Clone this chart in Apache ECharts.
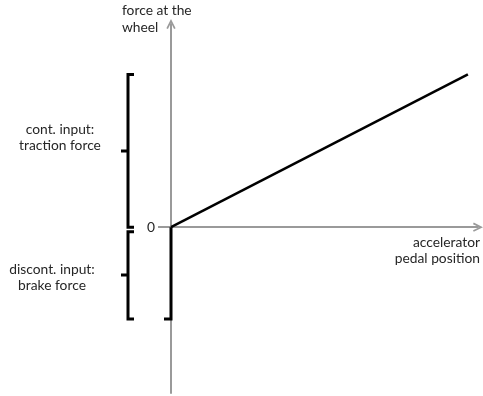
<!DOCTYPE html>
<html>
<head>
<meta charset="utf-8">
<script src="https://cdn.jsdelivr.net/npm/echarts@6/dist/echarts.min.js"></script>
<style>
html, body { margin: 0; padding: 0; background: #fff; }
#main { width: 483px; height: 396px; }
</style>
</head>
<body>
<div id="main"></div>
<script>
// pedal position (0..1) against force at the wheel (traction = +, brake = -)
var pedalPosition = [0, 1]
var tractionForce = [0, 1]
var brakeRange = [0, -0.6]
// brace extents on the force axis: [top, bottom]
var braceRanges = [[1, 0], [-0.03, -0.6]]
var braceLabels = ['cont. input:\ntraction force', 'discont. input:\nbrake force']
var yTicks = [0]

var textColor = '#262626'
var axisColor = '#9a9a9a'
var font = 'Lato'
var fontSize = 13.8
// open chevron arrow head
var chevron = 'path://M0,10 L5,0 L10,10 L8.3,10.8 L5,4 L1.7,10.8 Z'

var chart = echarts.init(document.getElementById('main'))

function renderBrace(params, api) {
  var i = params.dataIndex
  var top = api.coord([0, api.value(0)])
  var bottom = api.coord([0, api.value(1)])
  var x = top[0] - 43
  var mid = Math.round((top[1] + bottom[1]) / 2)
  var labelDx = [-68, -76][i]
  var labelDy = [-13, 3][i]
  return {
    type: 'group',
    children: [
      {
        type: 'polyline',
        shape: {
          points: [[x + 6, top[1]], [x, top[1]], [x, mid], [x - 7, mid], [x, mid], [x, bottom[1]], [x + 6, bottom[1]]]
        },
        style: { stroke: '#000', lineWidth: 3, fill: null }
      },
      {
        type: 'text',
        x: x + labelDx,
        y: mid + labelDy,
        style: {
          text: braceLabels[i],
          align: 'center',
          verticalAlign: 'middle',
          fontSize: fontSize,
          fontFamily: font,
          lineHeight: 16,
          fill: textColor
        }
      }
    ]
  }
}

function renderBrake(params, api) {
  var p0 = api.coord([0, api.value(0)])
  var p1 = api.coord([0, api.value(1)])
  return {
    type: 'polyline',
    shape: { points: [p0, p1, [p1[0] - 7, p1[1]]] },
    style: { stroke: '#000', lineWidth: 3, fill: null }
  }
}

var option = {
  animation: false,
  grid: { left: 171, right: 5, top: 24, bottom: 3 },
  graphic: [
    {
      type: 'text',
      left: 122,
      top: 2,
      style: {
        text: 'force at the\nwheel',
        fontSize: fontSize,
        fontFamily: font,
        lineHeight: 17,
        fill: textColor
      }
    }
  ],
  xAxis: {
    type: 'value',
    min: 0,
    max: 1.034,
    name: 'accelerator\npedal position',
    nameLocation: 'end',
    nameGap: 2,
    nameTextStyle: {
      align: 'right',
      verticalAlign: 'top',
      padding: [7, 0, 0, 0],
      fontSize: fontSize,
      fontFamily: font,
      lineHeight: 16,
      color: textColor
    },
    axisLine: {
      onZero: true,
      symbol: ['none', chevron],
      symbolSize: [12, 10],
      lineStyle: { color: axisColor, width: 2 }
    },
    axisTick: { show: false },
    axisLabel: { show: false },
    splitLine: { show: false }
  },
  yAxis: {
    type: 'value',
    min: -1.085,
    max: 1.33,
    axisLine: {
      show: true,
      onZero: true,
      symbol: ['none', chevron],
      symbolSize: [12, 10],
      lineStyle: { color: axisColor, width: 2 }
    },
    axisTick: {
      show: true,
      customValues: yTicks,
      length: 13,
      lineStyle: { color: axisColor, width: 2 }
    },
    axisLabel: {
      show: true,
      customValues: yTicks,
      margin: 16,
      fontSize: fontSize,
      fontFamily: font,
      color: textColor
    },
    splitLine: { show: false }
  },
  series: [
    {
      name: 'traction force',
      type: 'line',
      data: pedalPosition.map(function (p, i) { return [p, tractionForce[i]] }),
      symbol: 'none',
      lineStyle: { color: '#000', width: 2.5 },
      clip: false
    },
    {
      name: 'brake force',
      type: 'custom',
      data: [brakeRange],
      renderItem: renderBrake,
      clip: false
    },
    {
      name: 'braces',
      type: 'custom',
      data: braceRanges,
      renderItem: renderBrace,
      clip: false
    }
  ]
}

chart.setOption(option)
</script>
</body>
</html>
